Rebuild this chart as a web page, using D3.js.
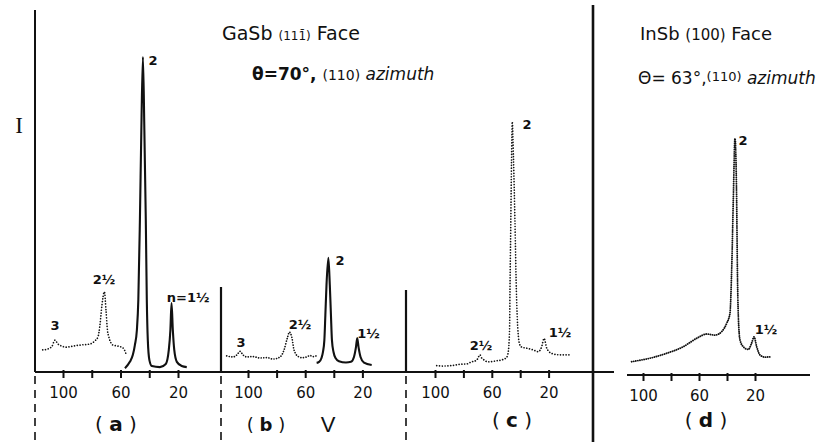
<!DOCTYPE html>
<html><head><meta charset="utf-8">
<script src="https://cdn.jsdelivr.net/npm/d3@7"></script>
<style>body{margin:0;background:#fff} svg{display:block}</style>
</head><body>
<svg id="chart" width="829" height="442"></svg>
<script>
// ---------- data (energy V in volts, intensity I in arbitrary units) ----------
const tickValues = [100, 80, 60, 40, 20];
const tickLabelValues = [100, 60, 20];
const panelNames = ["a", "b", "c", "d"];

// (a) GaSb, dotted low-energy part + solid part
const aDottedV = [114.1,110.4,107.6,105.6,103.5,100.9,97.9,93.1,88.2,81.3,77.8,75.7,74.3,72.9,71.2,70.1,69.1,68.1,65.3,61.8,58.3,56.3];
const aDottedI = [6.3,6.6,7.4,9.1,8,7.4,7.1,7.4,7.7,8,8.9,10,13.4,19.1,22.9,17.7,12,10,7.7,7.4,6.9,5.4];
const aSolidV = [56.9,53.5,51.4,50.0,48.6,47.6,46.5,45.5,44.4,43.4,42.4,41.7,41.0,39.9,38.2,32.6,28.5,26.4,25.3,24.5,23.6,22.6,20.8,17.4,13.9];
const aSolidI = [1.1,2.9,4.9,7.7,12,20.6,43.4,69.1,90,69.1,43.4,20.6,9.1,3.4,1.7,1.4,2.3,6.3,12,19.7,12,6.3,2.9,1.7,1.4];

// (b)
const bDottedV = [114.9,110.5,107.7,105.6,103.5,100.9,96.5,91.6,86.7,82.5,77.6,74.8,72.5,71.0,69.4,67.8,64.8,62.2,59.0,56.6,54.5,52.4];
const bDottedI = [4.6,4.3,4.9,5.9,4.9,4.3,4.4,4,4.1,3.7,4.3,6.3,9.7,11.4,10,6.3,4.4,4.1,4.3,4.7,4.4,4.6];
const bSolidV = [52.0,50.3,48.6,47.6,46.6,45.9,45.1,43.8,42.8,42.0,41.3,40.2,38.8,36.4,31.5,28.0,25.9,24.5,23.6,22.7,21.3,18.9,13.5];
const bSolidI = [2.6,2.9,4,5.7,9.1,16.3,24.9,32.6,24.9,16.3,9.1,5.7,4,3.1,2.7,2.9,4.3,7.1,9.7,7.1,4.3,2.7,2];

// (c)
const cV = [98.8,94.4,89.4,85.2,82.4,77.7,74.2,70.6,69.4,68.3,67.3,66.0,62.5,56.5,51.9,49.5,48.4,47.5,47.2,46.6,46.1,45.6,44.7,43.7,42.7,42.0,41.3,40.6,38.9,35.4,30.8,27.3,24.9,23.2,21.3,17.8,12.0,4.9];
const cI = [1.8,1.7,1.8,2,2.2,2.3,2.9,3.4,4.3,4.9,4.1,3.6,2.9,3.2,3.6,4.2,5.8,12,23.4,43.4,60.6,71.5,60.6,43.4,23.4,14.9,10.3,8.2,7.1,6.8,6.3,5.8,7.2,9.6,6.8,5.3,4.9,4.9];

// (d) InSb
const dV = [108.1,95,83.1,71.2,61.6,54.5,48.6,43.8,40.2,37.9,36.6,35.5,34.3,33.1,32.6,31.9,30.7,28.4,24.8,22.4,20.7,18.8,16.4,12.9,9.3];
const dI = [3.8,4.8,6.2,8.1,10.5,11.7,11.4,12.4,14.8,17.6,30.9,50,67.6,50,30.9,16.7,10,8.1,7.3,9.1,10.9,8.1,5.7,5.1,5.2];

// peak labels: panel, text, V, I (label centre)
const labelPanel = ["a","a","a","a","b","b","b","b","c","c","c","d","d"];
const labelText  = ["3","2½","2","n=1½","3","2½","2","1½","2½","2","1½","2","1½"];
const labelV     = [105.6,71.5,37.3,13.0,104.9,63.6,35.7,15.8,67.6,35.2,12.0,28.6,12.1];
const labelI     = [13.4,26.3,89,21.4,8.3,13.7,32,11.1,7.7,70.6,11.4,67.1,12.9];

// ---------- layout ----------
const svg = d3.select("#chart");
const ink = "#111";
const yMain = d3.scaleLinear().domain([0, 100]).range([372, 22]);
const yD = d3.scaleLinear().domain([0, 100]).range([375, 25]);
const xs = {
  a: d3.scaleLinear().domain([100, 20]).range([63, 178]),
  b: d3.scaleLinear().domain([100, 20]).range([248, 362.4]),
  c: d3.scaleLinear().domain([100, 20]).range([435, 548.6]),
  d: d3.scaleLinear().domain([100, 20]).range([643, 755])
};
const ys = {a: yMain, b: yMain, c: yMain, d: yD};
const zip = (v, i) => v.map((d, k) => ({v: d, i: i[k]}));

// baselines
svg.append("line").attr("x1", 35).attr("x2", 614).attr("y1", 372).attr("y2", 372)
  .attr("stroke", ink).attr("stroke-width", 2);
svg.append("line").attr("x1", 627).attr("x2", 810).attr("y1", 375).attr("y2", 375)
  .attr("stroke", ink).attr("stroke-width", 1.8);

// vertical lines
const solidV = [[35, 10, 372, 2], [221, 287, 372, 2.2], [406, 290, 372, 2.2], [593, 5, 442, 2.6]];
solidV.forEach(([x, y1, y2, w]) => svg.append("line").attr("x1", x).attr("x2", x)
  .attr("y1", y1).attr("y2", y2).attr("stroke", ink).attr("stroke-width", w));
[35, 221, 406].forEach(x => svg.append("line").attr("x1", x).attr("x2", x)
  .attr("y1", 376).attr("y2", 442).attr("stroke", ink).attr("stroke-width", 1.6)
  .attr("stroke-dasharray", "8,6"));

// axes
panelNames.forEach(p => {
  const g = svg.append("g").attr("transform", `translate(0,${ys[p](0)})`)
    .call(d3.axisBottom(xs[p]).tickValues(tickValues).tickSize(6).tickPadding(9)
      .tickFormat(v => tickLabelValues.includes(v) ? String(v) : ""));
  g.select(".domain").remove();
  g.selectAll(".tick line").attr("stroke", ink).attr("stroke-width", 2).attr("y1", -2);
  g.selectAll(".tick text").attr("fill", ink).attr("font-family", "DejaVu Sans")
    .attr("font-size", 15);
});

// curves
const lineFor = p => d3.line().x(d => xs[p](d.v)).y(d => ys[p](d.i)).curve(d3.curveMonotoneX);
const dotted = (sel, gap, w) => sel.attr("fill", "none").attr("stroke", ink).attr("stroke-width", w || 1.7)
  .attr("stroke-linecap", "round").attr("stroke-dasharray", `0.01,${gap}`);
const solid = sel => sel.attr("fill", "none").attr("stroke", ink).attr("stroke-width", 2.1)
  .attr("stroke-linejoin", "round");

svg.append("path").attr("d", lineFor("a")(zip(aDottedV, aDottedI))).call(dotted, 2.8);
svg.append("path").attr("d", lineFor("a")(zip(aSolidV, aSolidI))).call(solid);
svg.append("path").attr("d", lineFor("b")(zip(bDottedV, bDottedI))).call(dotted, 2.6);
svg.append("path").attr("d", lineFor("b")(zip(bSolidV, bSolidI))).call(solid);
svg.append("path").attr("d", lineFor("c")(zip(cV, cI))).call(dotted, 2.8);
svg.append("path").attr("d", lineFor("d")(zip(dV, dI))).call(dotted, 2.1, 1.9);

// peak labels
labelText.forEach((t, k) => {
  const p = labelPanel[k];
  svg.append("text").attr("x", xs[p](labelV[k])).attr("y", ys[p](labelI[k]))
    .attr("text-anchor", "middle").attr("dominant-baseline", "central")
    .attr("font-family", "DejaVu Sans").attr("font-weight", "bold")
    .attr("font-size", 13).attr("fill", ink).text(t);
});

// titles
const t1 = svg.append("text").attr("x", 222).attr("y", 40).attr("fill", ink)
  .attr("font-family", "DejaVu Sans");
t1.append("tspan").attr("font-size", 19).text("GaSb ");
t1.append("tspan").attr("font-size", 12).text("(11\u0031\u0304)");
t1.append("tspan").attr("font-size", 19).text(" Face");

const t2 = svg.append("text").attr("x", 252).attr("y", 80).attr("fill", ink)
  .attr("font-family", "DejaVu Sans");
t2.append("tspan").attr("font-size", 17).attr("font-weight", "bold").text("θ=70°, ");
t2.append("tspan").attr("font-size", 14).text("(110)");
t2.append("tspan").attr("font-size", 17).attr("font-style", "italic").text(" azimuth");

const t3 = svg.append("text").attr("x", 640).attr("y", 40).attr("fill", ink)
  .attr("font-family", "DejaVu Sans");
t3.append("tspan").attr("font-size", 18).text("InSb ");
t3.append("tspan").attr("font-size", 15).text("(100)");
t3.append("tspan").attr("font-size", 18).text(" Face");

const t4 = svg.append("text").attr("x", 638).attr("y", 84).attr("fill", ink)
  .attr("font-family", "DejaVu Sans");
t4.append("tspan").attr("font-size", 17).text("Θ= 63°,");
t4.append("tspan").attr("font-size", 13).attr("dy", -3).text("(110)");
t4.append("tspan").attr("font-size", 17).attr("dy", 3).attr("font-style", "italic").text(" azimuth");

// axis-letter and panel names
svg.append("text").attr("x", 19).attr("y", 133).attr("text-anchor", "middle")
  .attr("font-family", "Liberation Serif").attr("font-size", 23).attr("fill", ink).text("I");

const nameX = {a: 116, b: 266, c: 512, d: 706};
const nameY = {a: 431, b: 431, c: 427, d: 427};
panelNames.forEach(p => {
  const t = svg.append("text").attr("x", nameX[p]).attr("y", nameY[p]).attr("text-anchor", "middle")
    .attr("font-family", "DejaVu Sans").attr("font-size", p === "b" ? 18 : 20).attr("fill", ink);
  t.append("tspan").text("( ");
  t.append("tspan").attr("font-weight", "bold").text(p);
  t.append("tspan").text(" )");
});
svg.append("text").attr("x", 328).attr("y", 432).attr("text-anchor", "middle")
  .attr("font-family", "Liberation Sans").attr("font-size", 22).attr("fill", ink).text("V");
</script>
</body></html>
